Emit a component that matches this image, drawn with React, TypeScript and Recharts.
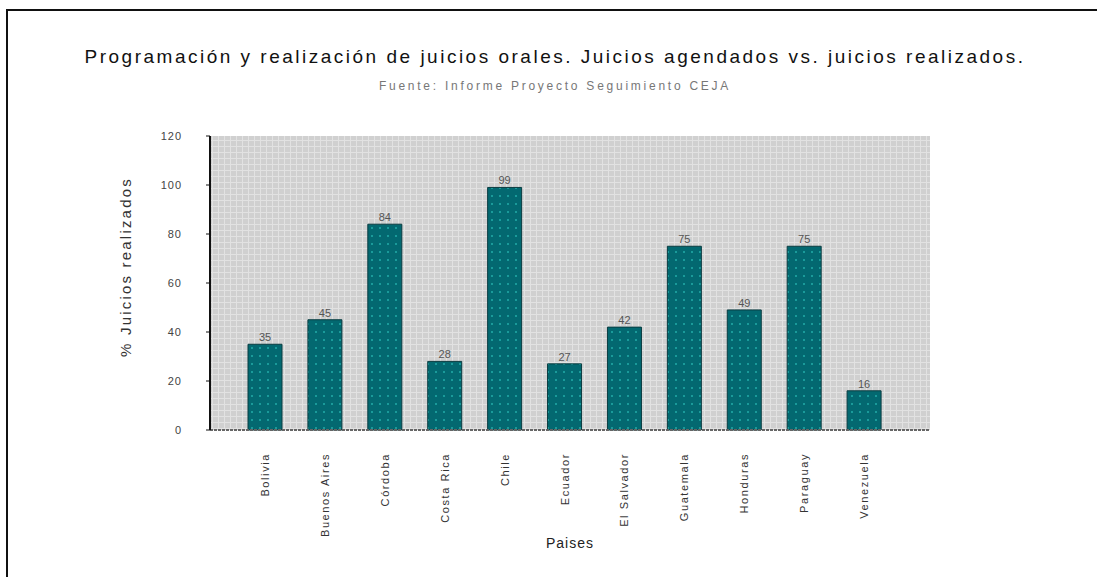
import { BarChart, Bar, XAxis, YAxis, CartesianGrid, LabelList } from "recharts";

const paises = [
  "Bolivia",
  "Buenos Aires",
  "Córdoba",
  "Costa Rica",
  "Chile",
  "Ecuador",
  "El Salvador",
  "Guatemala",
  "Honduras",
  "Paraguay",
  "Venezuela",
];
const realizados = [35, 45, 84, 28, 99, 27, 42, 75, 49, 75, 16];
const yTicks = [0, 20, 40, 60, 80, 100, 120];

const data = paises.map((pais, i) => ({ pais, valor: realizados[i] }));

const FONT = "'Liberation Sans', Arial, sans-serif";

const CountryTick = (props: any) => {
  const { x, y, payload } = props;
  return (
    <text
      x={0}
      y={0}
      transform={`translate(${x + 4},${y + 15}) rotate(-90)`}
      textAnchor="end"
      fontSize={11}
      letterSpacing={1.6}
      fill="#333"
      fontFamily={FONT}
    >
      {payload.value}
    </text>
  );
};

const YTitle = (props: any) => {
  const { viewBox } = props;
  const cx = viewBox.x - 25;
  const cy = viewBox.y + viewBox.height / 2 - 16;
  return (
    <text
      x={cx}
      y={cy}
      transform={`rotate(-90 ${cx} ${cy})`}
      textAnchor="middle"
      dominantBaseline="central"
      fontSize={15}
      letterSpacing={2.2}
      fill="#333"
      fontFamily={FONT}
    >
      % Juicios realizados
    </text>
  );
};

export default function App() {
  return (
    <div
      style={{
        position: "fixed",
        left: 0,
        top: 0,
        width: 1097,
        height: 577,
        overflow: "hidden",
        background: "#fff",
      }}
    >
      <div
        style={{
          position: "absolute",
          left: 6,
          top: 9,
          width: 1200,
          height: 700,
          borderLeft: "2px solid #111",
          borderTop: "2px solid #111",
        }}
      />
      <div
        style={{
          position: "absolute",
          left: 0,
          top: 46,
          width: 1110,
          textAlign: "center",
          fontFamily: FONT,
          fontSize: 19,
          letterSpacing: 2.5,
          color: "#111",
        }}
      >
        Programación y realización de juicios orales. Juicios agendados vs. juicios realizados.
      </div>
      <div
        style={{
          position: "absolute",
          left: 0,
          top: 79,
          width: 1110,
          textAlign: "center",
          fontFamily: FONT,
          fontSize: 12,
          letterSpacing: 2.75,
          color: "#777",
        }}
      >
        Fuente: Informe Proyecto Seguimiento CEJA
      </div>
      <div style={{ position: "absolute", left: 0, top: 0 }}>
        <BarChart
          width={1097}
          height={577}
          data={data}
          margin={{ top: 136, right: 167, left: 150, bottom: 47 }}
          barSize={34}
        >
          <defs>
            <pattern id="fondo" width="6" height="6" patternUnits="userSpaceOnUse">
              <rect width="6" height="6" fill="#d0d0d0" />
              <rect x="0" y="2" width="6" height="1" fill="#e2e2e2" />
              <rect x="2" y="0" width="1" height="6" fill="#e2e2e2" />
            </pattern>
            <pattern id="barra" width="8" height="8" patternUnits="userSpaceOnUse">
              <rect width="8" height="8" fill="#036870" />
              <rect x="3" y="3" width="2" height="2" fill="#1a9a9a" />
            </pattern>
          </defs>
          <CartesianGrid horizontal={false} vertical={false} fill="url(#fondo)" stroke="none" />
          <XAxis
            dataKey="pais"
            tick={<CountryTick />}
            tickLine={false}
            axisLine={{ stroke: "#666", strokeWidth: 2, strokeDasharray: "3 1" }}
            interval={0}
            height={100}
            padding={{ left: 25, right: 36 }}
            label={{
              value: "Paises",
              position: "insideBottom",
              offset: -18,
              fontSize: 14,
              fill: "#222",
              fontFamily: FONT,
              letterSpacing: 1,
            }}
          />
          <YAxis
            domain={[0, 120]}
            ticks={yTicks}
            width={60}
            tickSize={4}
            tickMargin={24}
            axisLine={{ stroke: "#111", strokeWidth: 2 }}
            tickLine={{ stroke: "#111" }}
            tick={{ fontSize: 11, fill: "#444", fontFamily: FONT, letterSpacing: 1 }}
            label={<YTitle />}
          />
          <Bar dataKey="valor" fill="url(#barra)" stroke="#0a3c40" strokeWidth={1} isAnimationActive={false}>
            <LabelList
              dataKey="valor"
              position="top"
              offset={3}
              fontSize={11}
              fill="#555"
              fontFamily={FONT}
            />
          </Bar>
        </BarChart>
      </div>
    </div>
  );
}
